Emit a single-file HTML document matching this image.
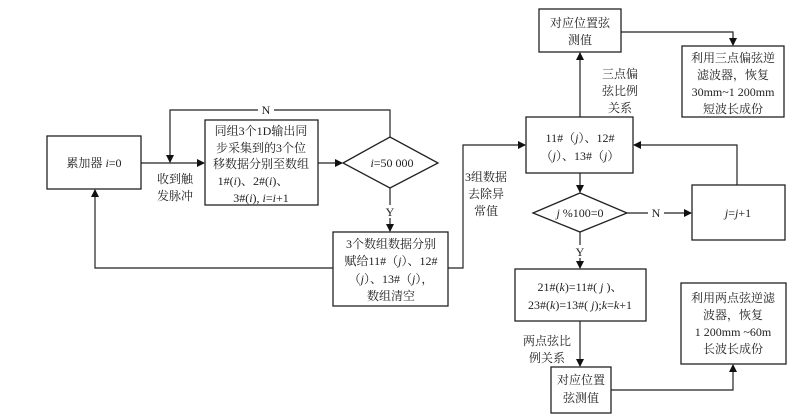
<!DOCTYPE html>
<html><head><meta charset="utf-8"><style>
html,body{margin:0;padding:0;background:#fff;}
svg{display:block;}
text{font-family:"Liberation Serif","Noto Serif CJK SC","Noto Sans CJK SC",serif;font-size:12px;fill:#222;text-anchor:middle;}
</style></head><body>
<svg width="810" height="419" viewBox="0 0 810 419" xmlns="http://www.w3.org/2000/svg">
<defs><marker id="a" markerWidth="8" markerHeight="8" refX="7" refY="4" orient="auto" markerUnits="userSpaceOnUse"><path d="M0,0 L8,4 L0,8 z" fill="#111"/></marker></defs>
<g fill="none" stroke="#222" stroke-width="1.3">
<rect x="47" y="136" width="94" height="53"/>
<rect x="205" y="120" width="113" height="85"/>
<polygon points="343,163 390,137 438,163 390,188"/>
<rect x="333" y="232" width="115" height="74"/>
<rect x="526" y="117" width="107" height="56"/>
<rect x="539" y="9" width="82" height="43"/>
<rect x="682" y="46" width="102" height="71"/>
<polygon points="533,213 580,193 627,213 580,232"/>
<rect x="692" y="185" width="93" height="55"/>
<rect x="515" y="269" width="131" height="52"/>
<rect x="551" y="367" width="60" height="46"/>
<rect x="681" y="283" width="105" height="81"/>
</g>
<g fill="none" stroke="#222" stroke-width="1.2" marker-end="url(#a)">
<path d="M141,163 H204"/>
<path d="M390,137 V110 H170 V162"/>
<path d="M318,163 H342"/>
<path d="M390,188 V231"/>
<path d="M333,268 H95 V190"/>
<path d="M448,268 H463 V145 H525"/>
<path d="M580,117 V53"/>
<path d="M621,32 H733 V45"/>
<path d="M580,173 V192"/>
<path d="M627,213 H691"/>
<path d="M737,185 V145 H634"/>
<path d="M580,232 V268"/>
<path d="M580,321 V366"/>
<path d="M611,390 H733 V365"/>
</g>
<rect x="258" y="103" width="16" height="13" fill="#fff"/>
<text x="266" y="114">N</text>
<rect x="383" y="205" width="14" height="13" fill="#fff"/>
<text x="390" y="216">Y</text>
<rect x="648" y="206" width="16" height="13" fill="#fff"/>
<text x="656" y="217">N</text>
<rect x="573" y="245" width="14" height="13" fill="#fff"/>
<text x="580" y="256">Y</text>
<text x="94" y="167">累加器 <tspan font-style="italic">i</tspan>=0</text>
<text x="175" y="183">收到触</text>
<text x="175" y="200">发脉冲</text>
<text x="261" y="135">同组3个1D输出同</text>
<text x="261" y="152">步采集到的3个位</text>
<text x="261" y="168">移数据分别至数组</text>
<text x="253" y="185">1#(<tspan font-style="italic">i</tspan>)、2#(<tspan font-style="italic">i</tspan>)、</text>
<text x="261" y="202">3#(<tspan font-style="italic">i</tspan>), <tspan font-style="italic">i</tspan>=<tspan font-style="italic">i</tspan>+1</text>
<text x="392" y="167"><tspan font-style="italic">i</tspan>=50 000</text>
<text x="391" y="248">3个数组数据分别</text>
<text x="391" y="265">赋给11#（<tspan font-style="italic">j</tspan>）、12#</text>
<text x="391" y="283">（<tspan font-style="italic">j</tspan>）、13#（<tspan font-style="italic">j</tspan>），</text>
<text x="391" y="300">数组清空</text>
<text x="486" y="181">3组数据</text>
<text x="486" y="198">去除异</text>
<text x="486" y="215">常值</text>
<text x="580" y="142">11#（<tspan font-style="italic">j</tspan>）、12#</text>
<text x="580" y="160">（<tspan font-style="italic">j</tspan>）、13#（<tspan font-style="italic">j</tspan>）</text>
<text x="580" y="27">对应位置弦</text>
<text x="580" y="44">测值</text>
<text x="620" y="78">三点偏</text>
<text x="620" y="95">弦比例</text>
<text x="620" y="112">关系</text>
<text x="733" y="62">利用三点偏弦逆</text>
<text x="733" y="79">滤波器，恢复</text>
<text x="733" y="96">30mm~1 200mm</text>
<text x="733" y="113">短波长成份</text>
<text x="580" y="217"><tspan font-style="italic">j</tspan> %100=0</text>
<text x="738" y="217"><tspan font-style="italic">j</tspan>=<tspan font-style="italic">j</tspan>+1</text>
<text x="580" y="291">21#(<tspan font-style="italic">k</tspan>)=11#( <tspan font-style="italic">j</tspan> )、</text>
<text x="580" y="309">23#(<tspan font-style="italic">k</tspan>)=13#( <tspan font-style="italic">j</tspan>);<tspan font-style="italic">k</tspan>=<tspan font-style="italic">k</tspan>+1</text>
<text x="547" y="345">两点弦比</text>
<text x="547" y="362">例关系</text>
<text x="581" y="384">对应位置</text>
<text x="581" y="402">弦测值</text>
<text x="733" y="302">利用两点弦逆滤</text>
<text x="733" y="319">波器，恢复</text>
<text x="733" y="336">1 200mm ~60m</text>
<text x="733" y="353">长波长成份</text>
</svg>
</body></html>
